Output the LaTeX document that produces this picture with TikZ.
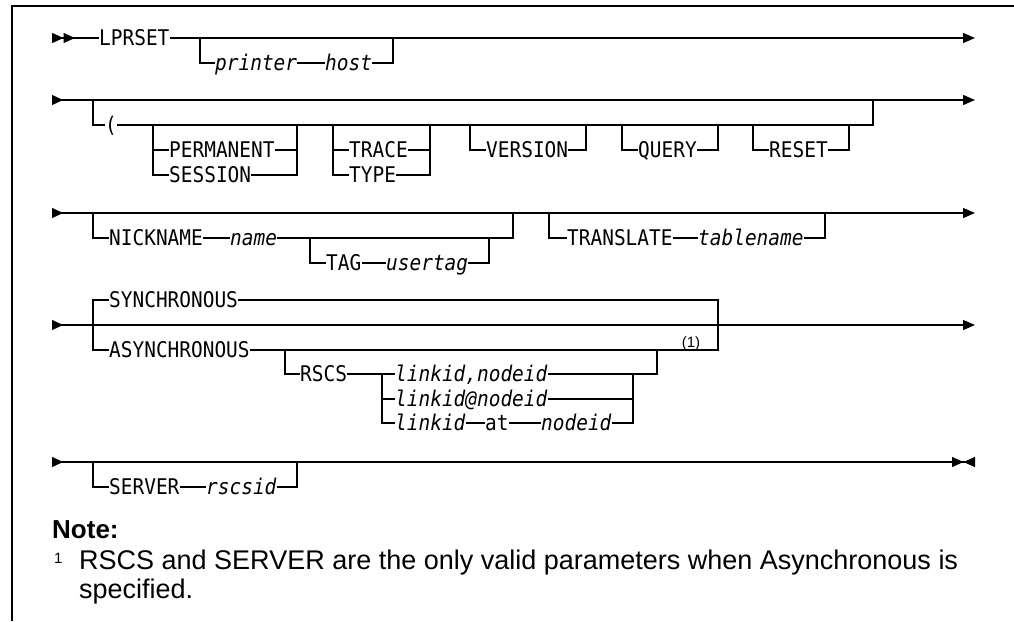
\documentclass[tikz,border=0pt]{standalone}
\usepackage{fontspec}
\setmainfont{Liberation Sans}
\newfontfamily\railfont[FakeStretch=0.9]{DejaVu Sans Mono}
\usetikzlibrary{arrows.meta,positioning}

\begin{document}
\begin{tikzpicture}[x=1pt, y=-1pt,
    rail/.style={line width=1.2pt},
    kw/.style={anchor=west, inner sep=0pt, text height=15.6pt, text depth=0pt,
        font={\railfont\fontsize{21.6}{24}\selectfont}},
    var/.style={kw, font={\railfont\itshape\fontsize{21.6}{24}\selectfont}},
    firstline/.style={rail, {Triangle[reversed,length=11.5pt,width=10pt]Triangle[reversed,length=11.5pt,width=10pt]}-},
    endline/.style={rail, -{Triangle[length=12pt,width=10pt]}},
    mainline/.style={rail, {Triangle[reversed,length=11pt,width=10pt]}-{Triangle[length=12pt,width=10pt]}},
    lastline/.style={rail, {Triangle[reversed,length=11pt,width=10pt]}-{Triangle[length=11.5pt,width=10pt]Triangle[reversed,length=11.5pt,width=10pt]}}
]
    \useasboundingbox (0,0) rectangle (1014,621);

    % Frame
    \draw[line width=1.3pt] (1014,6) -| (12,621);

    % Row 1: LPRSET
    \coordinate (in1) at (52,38);
    \coordinate (out1) at (975,38);
    \node[kw] (lprset) at (99,38) {LPRSET};
    \node[var] (printer) at (215,63) {printer};
    \node[var] (host) at (325,63) {host};
    \coordinate (opt1a) at (200,38);
    \coordinate (opt1b) at (393,38);
    \draw[firstline] (in1) -- (lprset.west);
    \draw[endline] (lprset.east) -- (out1);
    \draw[rail] (opt1a) |- (printer.west);
    \draw[rail] (printer.east) -- (host.west);
    \draw[rail] (host.east) -| (opt1b);

    % Row 2: options in parentheses
    \coordinate (in2) at (52,100);
    \coordinate (out2) at (975,100);
    \coordinate (opt2a) at (93,100);
    \coordinate (opt2b) at (873,100);
    \draw[mainline] (in2) -- (out2);
    \node[kw] (paren) at (105,125) {(};
    \draw[rail] (opt2a) |- (paren.west);
    \draw[rail] (paren.east) -| (opt2b);

    \node[kw] (permanent) at (169,150) {PERMANENT};
    \node[kw] (session) at (169,175) {SESSION};
    \coordinate (grp1a) at (153,125);
    \coordinate (grp1b) at (297,125);
    \draw[rail] (grp1a) |- (session.west);
    \draw[rail] (grp1a |- permanent.west) -- (permanent.west);
    \draw[rail] (permanent.east) -| (grp1b);
    \draw[rail] (session.east) -| (grp1b);

    \node[kw] (trace) at (349,150) {TRACE};
    \node[kw] (type) at (349,175) {TYPE};
    \coordinate (grp2a) at (333,125);
    \coordinate (grp2b) at (430,125);
    \draw[rail] (grp2a) |- (type.west);
    \draw[rail] (grp2a |- trace.west) -- (trace.west);
    \draw[rail] (trace.east) -| (grp2b);
    \draw[rail] (type.east) -| (grp2b);

    \node[kw] (version) at (486,150) {VERSION};
    \coordinate (grp3a) at (470,125);
    \coordinate (grp3b) at (586,125);
    \draw[rail] (grp3a) |- (version.west);
    \draw[rail] (version.east) -| (grp3b);

    \node[kw] (query) at (638,150) {QUERY};
    \coordinate (grp4a) at (622,125);
    \coordinate (grp4b) at (718,125);
    \draw[rail] (grp4a) |- (query.west);
    \draw[rail] (query.east) -| (grp4b);

    \node[kw] (reset) at (769,150) {RESET};
    \coordinate (grp5a) at (753,125);
    \coordinate (grp5b) at (849,125);
    \draw[rail] (grp5a) |- (reset.west);
    \draw[rail] (reset.east) -| (grp5b);

    % Row 3: NICKNAME and TRANSLATE
    \coordinate (in3) at (52,213);
    \coordinate (out3) at (975,213);
    \draw[mainline] (in3) -- (out3);
    \node[kw] (nickname) at (109,238) {NICKNAME};
    \node[var] (name) at (230,238) {name};
    \coordinate (opt3a) at (93,213);
    \coordinate (opt3b) at (513,213);
    \draw[rail] (opt3a) |- (nickname.west);
    \draw[rail] (nickname.east) -- (name.west);
    \draw[rail] (name.east) -| (opt3b);

    \node[kw] (tag) at (326,263) {TAG};
    \node[var] (usertag) at (386,263) {usertag};
    \coordinate (tag3a) at (310,238);
    \coordinate (tag3b) at (489,238);
    \draw[rail] (tag3a) |- (tag.west);
    \draw[rail] (tag.east) -- (usertag.west);
    \draw[rail] (usertag.east) -| (tag3b);

    \node[kw] (translate) at (567,238) {TRANSLATE};
    \node[var] (tablename) at (698,238) {tablename};
    \coordinate (opt4a) at (549,213);
    \coordinate (opt4b) at (825,213);
    \draw[rail] (opt4a) |- (translate.west);
    \draw[rail] (translate.east) -- (tablename.west);
    \draw[rail] (tablename.east) -| (opt4b);

    % Row 4: SYNCHRONOUS / ASYNCHRONOUS
    \coordinate (in4) at (52,325);
    \coordinate (out4) at (975,325);
    \draw[mainline] (in4) -- (out4);
    \node[kw] (sync) at (109,300) {SYNCHRONOUS};
    \node[kw] (async) at (109,350) {ASYNCHRONOUS};
    \coordinate (sel4a) at (93,325);
    \coordinate (sel4b) at (718,325);
    \draw[rail] (sel4a) |- (sync.west);
    \draw[rail] (sel4a) |- (async.west);
    \draw[rail] (sync.east) -| (sel4b);
    \draw[rail] (async.east) -| (sel4b);

    \node[kw] (rscs) at (300,374) {RSCS};
    \coordinate (rscsa) at (285,350);
    \coordinate (rscsb) at (657,350);
    \draw[rail] (rscsa) |- (rscs.west);

    \node[var] (link1) at (395,374) {linkid,nodeid};
    \node[var] (link2) at (395,399) {linkid@nodeid};
    \node[var] (link3) at (395,423) {linkid};
    \node[kw] (at) at (485,423) {at};
    \node[var] (nodeid) at (541,423) {nodeid};
    \coordinate (lnka) at (382,374);
    \coordinate (lnkb) at (633,374);
    \draw[rail] (rscs.east) -- (link1.west);
    \draw[rail] (lnka) |- (link3.west);
    \draw[rail] (lnka |- link2.west) -- (link2.west);
    \draw[rail] (link3.east) -- (at.west);
    \draw[rail] (at.east) -- (nodeid.west);
    \draw[rail] (link1.east) -| (rscsb);
    \draw[rail] (link2.east) -| (lnkb);
    \draw[rail] (nodeid.east) -| (lnkb);
    \node[inner sep=0pt, font=\fontsize{15}{15}\selectfont] (ref1) at (691,344) {(1)};

    % Row 5: SERVER
    \coordinate (in5) at (52,462);
    \coordinate (out5) at (975,462);
    \draw[lastline] (in5) -- (out5);
    \node[kw] (server) at (109,487) {SERVER};
    \node[var] (rscsid) at (206,487) {rscsid};
    \coordinate (opt5a) at (93,462);
    \coordinate (opt5b) at (297,462);
    \draw[rail] (opt5a) |- (server.west);
    \draw[rail] (server.east) -- (rscsid.west);
    \draw[rail] (rscsid.east) -| (opt5b);

    % Note
    \node[anchor=base west, inner sep=0pt, font=\bfseries\fontsize{26}{28}\selectfont] (note) at (52,538) {Note:};
    \node[anchor=base west, inner sep=0pt, font=\fontsize{15}{15}\selectfont] (fnmark) at (54,563) {1};
    \node[anchor=base west, inner sep=0pt, align=left, font=\fontsize{27}{29}\selectfont] (fntext) at (79,598)
        {RSCS and SERVER are the only valid parameters when Asynchronous is\\specified.};
\end{tikzpicture}
\end{document}
